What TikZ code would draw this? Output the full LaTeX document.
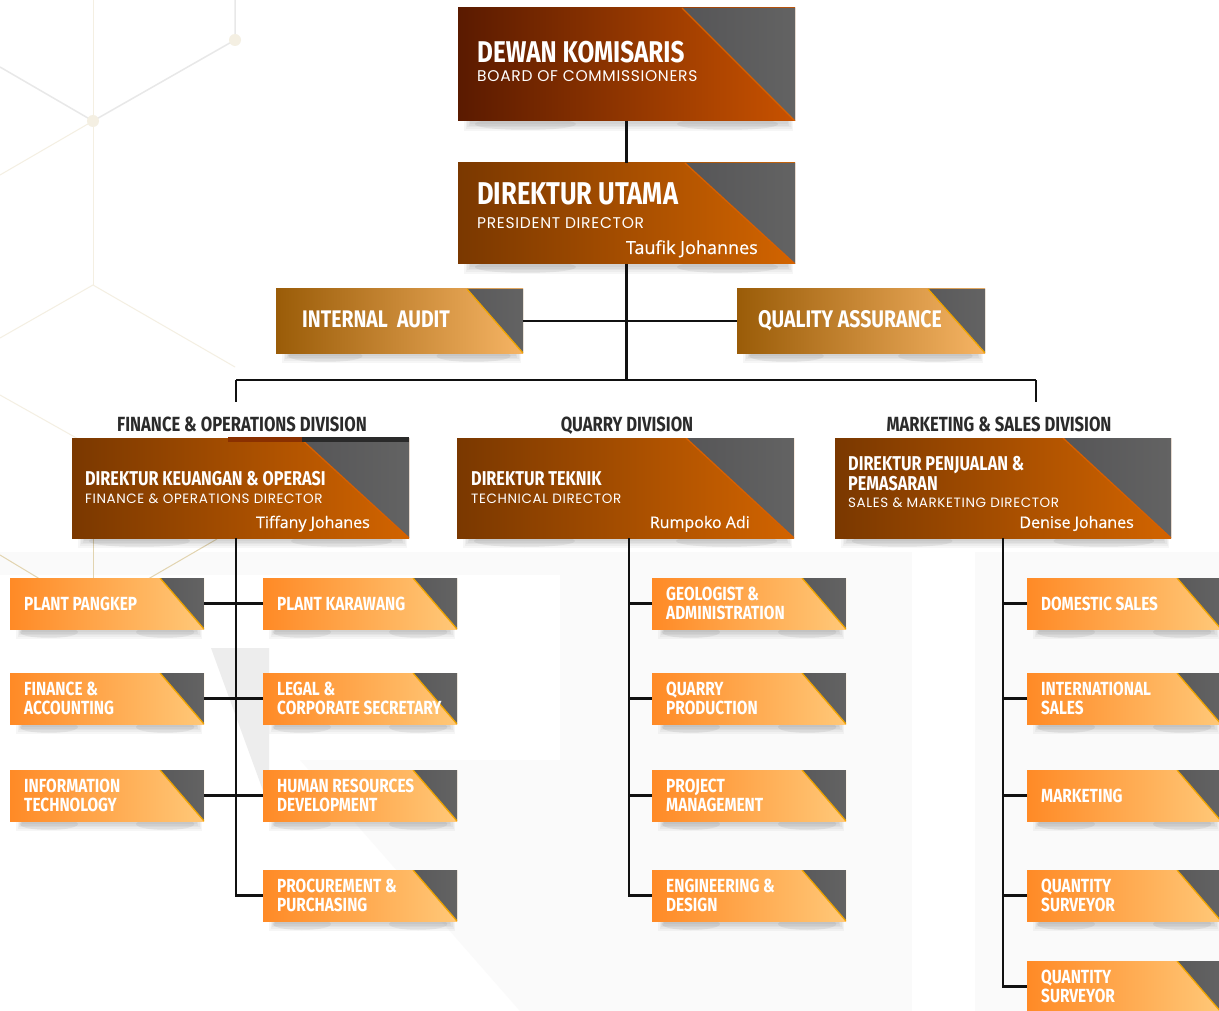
\documentclass[tikz,border=0pt]{standalone}
\usepackage{fontspec}
\setmainfont{Open Sans}
\newfontfamily\headfont[FakeStretch=0.81]{Fira Sans}
\newfontfamily\subfont[LetterSpace=4.5]{Poppins}
\newfontfamily\namefont[FakeBold=0.5]{Open Sans}
\definecolor{dkL}{HTML}{5A1A00}
\definecolor{dkR}{HTML}{C85200}
\definecolor{duL}{HTML}{7A3800}
\definecolor{duR}{HTML}{D26400}
\definecolor{miL}{HTML}{9A5C08}
\definecolor{miR}{HTML}{F6B464}
\definecolor{smL}{HTML}{FF8A26}
\definecolor{smR}{HTML}{FFC878}
\definecolor{triA}{HTML}{3A393E}
\definecolor{triB}{HTML}{636363}
\definecolor{edgeD}{HTML}{D86000}
\definecolor{edgeL}{HTML}{F0A400}
\definecolor{lineK}{HTML}{111111}
\definecolor{labK}{HTML}{2B2B2B}
\definecolor{hexG}{HTML}{E8E8E8}
\definecolor{hexB}{HTML}{F4EFE2}
\definecolor{hexC}{HTML}{E2D4B0}
\definecolor{bgP}{HTML}{FAFAFA}
\definecolor{slab}{HTML}{EDEDED}
\definecolor{stripA}{HTML}{8A3000}
\definecolor{stripB}{HTML}{2A2A2A}

\newcommand\orgbox[9]{%
  \foreach \k in {1,...,5}{\fill[black,opacity=0.035] ({#2+14-1.6*\k},{#5-2}) rectangle ({#4-8+1.2*\k},{#5+1+1.8*\k});}
  \fill[black,opacity=0.06] ({#2+0.2*(#4-(#2))},{#5+3}) ellipse [x radius={0.15*(#4-(#2))}, y radius=6];
  \fill[black,opacity=0.06] ({#2+0.8*(#4-(#2))},{#5+3}) ellipse [x radius={0.15*(#4-(#2))}, y radius=6];
  \node[boxbase, minimum width={(#4-(#2))*1pt}, minimum height={(#5-(#3))*1pt}, left color=#6, right color=#7,
    path picture={\shade[left color=triA, right color=triB] ([xshift=-#8pt]path picture bounding box.north east) -- (path picture bounding box.north east) -- (path picture bounding box.south east) -- cycle;
    \draw[#9, line width=1.3pt] ([xshift=-#8pt]path picture bounding box.north east) -- (path picture bounding box.south east);}] (#1) at (#2,#3) {};%
}
\newcommand\unitbox[4]{%
  \orgbox{#1}{#2}{#3}{#2+194}{#3+51}{smL}{smR}{44}{edgeL}%
  \node[smallT, anchor=west, xshift=14pt] (#1t) at (#1.west) {#4};%
}

\tikzset{
  boxbase/.style={anchor=north west, inner sep=0pt, outer sep=0pt, draw=none},
  conn/.style={draw=lineK, line width=2.4pt},
  bigT/.style={font=\headfont\bfseries\fontsize{30}{30}\selectfont, text=white, inner sep=0pt, anchor=base west},
  midT/.style={font=\headfont\bfseries\fontsize{24}{24}\selectfont, text=white, inner sep=0pt, anchor=base west},
  divT/.style={font=\headfont\bfseries\fontsize{20}{20}\selectfont, text=white, inner sep=0pt, anchor=base west},
  divLab/.style={font=\headfont\bfseries\fontsize{20.5}{20.5}\selectfont, text=labK, inner sep=0pt, anchor=base},
  smallT/.style={font=\headfont\bfseries\fontsize{19}{19}\selectfont, text=white, inner sep=0pt, align=left},
  subA/.style={font=\subfont\fontsize{15.5}{15.5}\selectfont, text=white, inner sep=0pt, anchor=base west},
  subB/.style={font=\subfont\fontsize{13.5}{13.5}\selectfont, text=white, inner sep=0pt, anchor=base west},
  nameA/.style={font=\namefont\fontsize{18}{18}\selectfont, text=white, inner sep=0pt, anchor=base east},
  nameB/.style={font=\namefont\fontsize{16}{16}\selectfont, text=white, inner sep=0pt, anchor=base east},
}

\begin{document}
\begin{tikzpicture}[x=1pt,y=-1pt]
\useasboundingbox (0,0) rectangle (1219,1011);
\clip (0,0) rectangle (1219,1011);
\fill[white] (0,0) rectangle (1219,1011);
% pale background shapes
\fill[bgP] (560,552) rectangle (912,1011);
\fill[bgP] (975,552) rectangle (1219,1011);
\fill[bgP] (0,552) rectangle (560,575);
\fill[bgP] (300,760) -- (560,760) -- (560,1011) -- (520,1011) -- cycle;
\fill[slab] (211,648) -- (269,648) -- (269,807) -- cycle;
% hex lines
\draw[hexG, line width=1.5pt] (0,67) -- (93,121) -- (235,40) -- (235,0);
\draw[hexB, line width=1pt] (93,0) -- (93,285);
\draw[hexB, line width=1pt] (93,121) -- (0,175);
\draw[hexB, line width=1pt] (0,338) -- (93,285) -- (235,367);
\draw[hexB, line width=1pt] (0,395) -- (80,440);
\draw[hexC, line width=1pt] (0,555) -- (93,611) -- (217,539);
\draw[hexC, line width=1pt] (93,538) -- (93,611);
\fill[hexB] (93,121) circle (6);
\fill[hexB] (235,40) circle (6);

% top boxes
\orgbox{dk}{458}{8}{795}{121}{dkL}{dkR}{113}{edgeD}
\node[bigT] (dkT) at (477,63) {DEWAN KOMISARIS};
\node[subA] (dkS) at (477,82) {BOARD OF COMMISSIONERS};

\orgbox{du}{458}{163}{795}{264}{duL}{duR}{110}{edgeD}
\node[bigT, font=\headfont\bfseries\fontsize{31.5}{31.5}\selectfont] (duT) at (477,205) {DIREKTUR UTAMA};
\node[subA] (duS) at (477,229) {PRESIDENT DIRECTOR};
\node[nameA] (duN) at (758,254) {Taufik Johannes};

\orgbox{ia}{276}{289}{523}{353}{miL}{miR}{56}{edgeL}
\node[midT] (iaT) at (302,327) {INTERNAL\ \ AUDIT};
\orgbox{qa}{737}{289}{985}{353}{miL}{miR}{57}{edgeL}
\node[midT] (qaT) at (758,327) {QUALITY ASSURANCE};

% division labels
\node[divLab] (finL) at (242,431) {FINANCE \& OPERATIONS DIVISION};
\node[divLab] (quaL) at (627,431) {QUARRY DIVISION};
\node[divLab] (marL) at (999,431) {MARKETING \& SALES DIVISION};

% division boxes
\orgbox{fin}{72}{438}{409}{538}{duL}{duR}{109}{edgeD}
\fill[stripA] (228,437) rectangle (302,442);
\fill[stripB] (302,437) rectangle (409,442);
\node[divT] (finT) at (85,485) {DIREKTUR KEUANGAN \& OPERASI};
\node[subB] (finS) at (85,503) {FINANCE \& OPERATIONS DIRECTOR};
\node[nameB] (finN) at (370,528) {Tiffany Johanes};

\orgbox{qd}{457}{438}{794}{538}{duL}{duR}{108}{edgeD}
\node[divT] (qdT) at (471,485) {DIREKTUR TEKNIK};
\node[subB] (qdS) at (471,503) {TECHNICAL DIRECTOR};
\node[nameB] (qdN) at (750,528) {Rumpoko Adi};

\orgbox{md}{835}{438}{1171}{538}{duL}{duR}{108}{edgeD}
\node[divT] (mdT1) at (848,470) {DIREKTUR PENJUALAN \&};
\node[divT] (mdT2) at (848,490) {PEMASARAN};
\node[subB] (mdS) at (848,507) {SALES \& MARKETING DIRECTOR};
\node[nameB] (mdN) at (1134,528) {Denise Johanes};

% unit boxes
\unitbox{pp}{10}{578}{PLANT PANGKEP}
\unitbox{fa}{10}{673}{FINANCE \&\\ACCOUNTING}
\unitbox{it}{10}{770}{INFORMATION\\TECHNOLOGY}
\unitbox{pk}{263}{578}{PLANT KARAWANG}
\unitbox{lc}{263}{673}{LEGAL \&\\CORPORATE SECRETARY}
\unitbox{hr}{263}{770}{HUMAN RESOURCES\\DEVELOPMENT}
\unitbox{pr}{263}{870}{PROCUREMENT \&\\PURCHASING}
\unitbox{gl}{652}{578}{GEOLOGIST \&\\ADMINISTRATION}
\unitbox{qp}{652}{673}{QUARRY\\PRODUCTION}
\unitbox{pm}{652}{770}{PROJECT\\MANAGEMENT}
\unitbox{ed}{652}{870}{ENGINEERING \&\\DESIGN}
\unitbox{ds}{1027}{578}{DOMESTIC SALES}
\unitbox{is}{1027}{673}{INTERNATIONAL\\SALES}
\unitbox{mk}{1027}{770}{MARKETING}
\unitbox{qs}{1027}{870}{QUANTITY\\SURVEYOR}
\unitbox{qt}{1027}{961}{QUANTITY\\SURVEYOR}

% connectors
\coordinate (busL) at (236,380);
\coordinate (busR) at (1036,380);
\coordinate (busC) at (627,380);
\draw[conn] (dk.south) -- (du.north);
\draw[conn] (du.south) -- (du.south |- busC);
\draw[conn] (ia.east) -- (qa.west);
\draw[conn] (busL) -- (busR);
\draw[conn] (busL) -- ++(0,22);
\draw[conn] (busR) -- ++(0,22);

\coordinate (fv) at (236,538);
\draw[conn] (fv) |- (pr.west);
\draw[conn] (pp.east) -- (pk.west);
\draw[conn] (fa.east) -- (lc.west);
\draw[conn] (it.east) -- (hr.west);

\coordinate (qv) at (629,538);
\draw[conn] (qv) |- (ed.west);
\draw[conn] (gl.west) -- (gl.west -| qv);
\draw[conn] (qp.west) -- (qp.west -| qv);
\draw[conn] (pm.west) -- (pm.west -| qv);

\coordinate (mv) at (1003,538);
\draw[conn] (mv) |- (qt.west);
\draw[conn] (ds.west) -- (ds.west -| mv);
\draw[conn] (is.west) -- (is.west -| mv);
\draw[conn] (mk.west) -- (mk.west -| mv);
\draw[conn] (qs.west) -- (qs.west -| mv);
\end{tikzpicture}
\end{document}
